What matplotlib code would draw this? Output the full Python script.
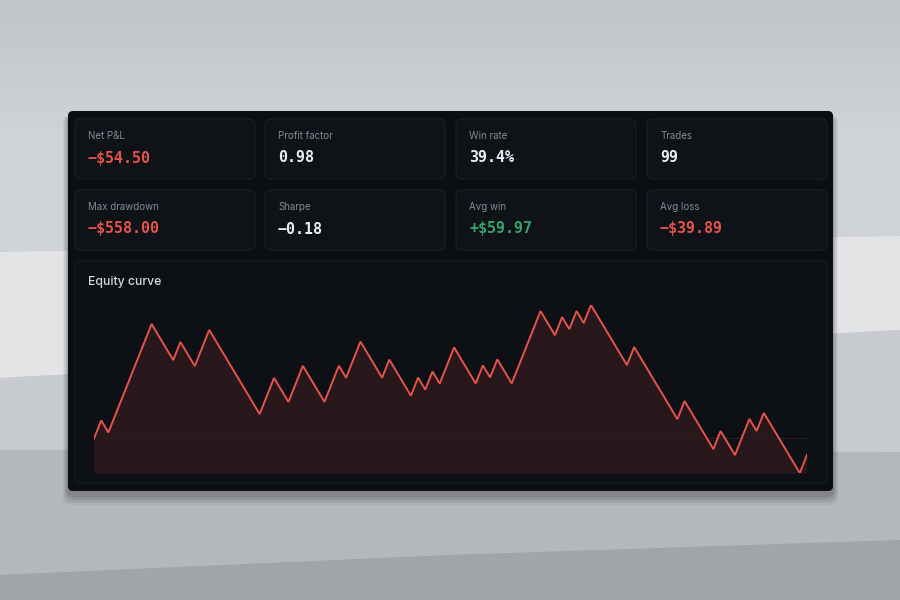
import numpy as np
import matplotlib
matplotlib.use("Agg")
import matplotlib.pyplot as plt
from matplotlib.patches import FancyBboxPatch, Polygon
from matplotlib.colors import LinearSegmentedColormap

# stat cards: label, value text, value colour key
card_labels = ["Net P&L", "Profit factor", "Win rate", "Trades",
               "Max drawdown", "Sharpe", "Avg win", "Avg loss"]
card_values = ["\u2212$54.50", "0.98", "39.4%", "99",
               "\u2212$558.00", "\u22120.18", "+$59.97", "\u2212$39.89"]
card_tones = ["neg", "neutral", "neutral", "neutral",
              "neg", "neutral", "pos", "neg"]

# per-trade P&L (99 trades)
trade_pnl = [
    59.97, -39.89, 59.97, 59.97, 59.97, 59.97, 59.97, 59.97, -39.89, -39.89,
    -39.89, 59.97, -39.89, -39.89, 59.97, 59.97, -39.89, -39.89, -39.89, -39.89,
    -39.89, -39.89, -39.89, 59.97, 59.97, -39.89, -39.89, 59.97, 59.97, -39.89,
    -39.89, -39.89, 59.97, 59.97, -39.89, 59.97, 59.97, -39.89, -39.89, -39.89,
    59.97, -39.89, -39.89, -39.89, 59.97, -39.89, 59.97, -39.89, 59.97, 59.97,
    -39.89, -39.89, -39.89, 59.97, -39.89, 59.97, -39.89, -39.89, 59.97, 59.97,
    59.97, 59.97, -39.89, -39.89, 59.97, -39.89, 59.97, -39.89, 59.97, -39.89,
    -39.89, -39.89, -39.89, -39.89, 59.97, -39.89, -39.89, -39.89, -39.89, -39.89,
    -39.89, 59.97, -39.89, -39.89, -39.89, -39.89, 59.97, -39.89, -39.89, 59.97,
    59.97, -39.89, 59.97, -39.89, -39.89, -39.89, -39.89, -39.89, 59.97,
]

tone_colors = {"neg": "#e5534b", "pos": "#34a36a", "neutral": "#e6edf3"}
RED = "#e5534b"

fig = plt.figure(figsize=(9, 6), dpi=100)

# full-figure axes in pixel units for the backdrop and the cards
bg = fig.add_axes([0, 0, 1, 1])
bg.set_xlim(0, 900)
bg.set_ylim(600, 0)
bg.axis("off")

# soft grey backdrop with a few slanted bands
grad = LinearSegmentedColormap.from_list(
    "bg", ["#c2c5c8", "#d2d5d7", "#cfd2d4", "#babdc0", "#a8abae"])
bg.imshow(np.linspace(0, 1, 256).reshape(-1, 1), cmap=grad, aspect="auto",
          extent=[0, 900, 600, 0], zorder=0)
bg.add_patch(Polygon([(0, 252), (900, 236), (900, 330), (0, 378)],
                     closed=True, color="#e2e4e5", lw=0, zorder=1))
bg.add_patch(Polygon([(0, 378), (900, 330), (900, 452), (0, 450)],
                     closed=True, color="#c8cbcd", lw=0, zorder=1))
bg.add_patch(Polygon([(0, 450), (900, 452), (900, 540), (450, 555), (0, 575)],
                     closed=True, color="#b5b8bb", lw=0, zorder=1))
bg.add_patch(Polygon([(0, 575), (450, 555), (900, 540), (900, 600), (0, 600)],
                     closed=True, color="#a2a5a8", lw=0, zorder=1))

# panel shadow + panel
for i, a in enumerate([0.05, 0.06, 0.08, 0.10]):
    g = 10 - i * 2.5
    bg.add_patch(FancyBboxPatch((68 - g / 2, 111 + 4), 765 + g, 380 + g,
                                boxstyle="round,pad=0,rounding_size=8",
                                fc="black", ec="none", alpha=a, zorder=2))
bg.add_patch(FancyBboxPatch((68, 111), 765, 380,
                            boxstyle="round,pad=0,rounding_size=5",
                            fc="#0b0e12", ec="none", zorder=3))

card_x = [75, 265, 456, 647]
card_y = [119, 190]
for i, (lab, val, tone) in enumerate(zip(card_labels, card_values, card_tones)):
    x0 = card_x[i % 4]
    y0 = card_y[i // 4]
    bg.add_patch(FancyBboxPatch((x0, y0), 180, 60,
                                boxstyle="round,pad=0,rounding_size=6",
                                fc="#0f1318", ec="#1b2027", lw=0.8, zorder=4))
    bg.text(x0 + 13, y0 + 17, lab, color="#848b94", fontsize=7,
            family="Inter", va="center", ha="left", zorder=5)
    bg.text(x0 + 13, y0 + 39, val, color=tone_colors[tone], fontsize=10.8,
            family="DejaVu Sans Mono", fontweight="bold",
            va="center", ha="left", zorder=5)

# equity card
bg.add_patch(FancyBboxPatch((75, 261), 752, 222,
                            boxstyle="round,pad=0,rounding_size=6",
                            fc="#0d1015", ec="#181c23", lw=0.8, zorder=4))
bg.text(88, 282, "Equity curve", color="#d5dbe1", fontsize=8.8,
        family="Inter", fontweight="medium", va="center", ha="left", zorder=5)

# the curve itself
equity = np.concatenate([[0.0], np.cumsum(trade_pnl)])
trades = np.arange(len(equity))

ax = fig.add_axes([94 / 900, (600 - 473) / 600, 713 / 900, 168 / 600])
ax.set_facecolor("none")
ax.fill_between(trades, equity, equity.min(), color=RED, alpha=0.13, lw=0)
ax.axhline(0, color="#2a1d22", lw=0.8)
ax.plot(trades, equity, color=RED, lw=1.4, solid_joinstyle="miter")
ax.set_xlim(0, len(equity) - 1)
ax.set_ylim(equity.min(), equity.max())
ax.axis("off")

fig.savefig("out.png", dpi=100)
